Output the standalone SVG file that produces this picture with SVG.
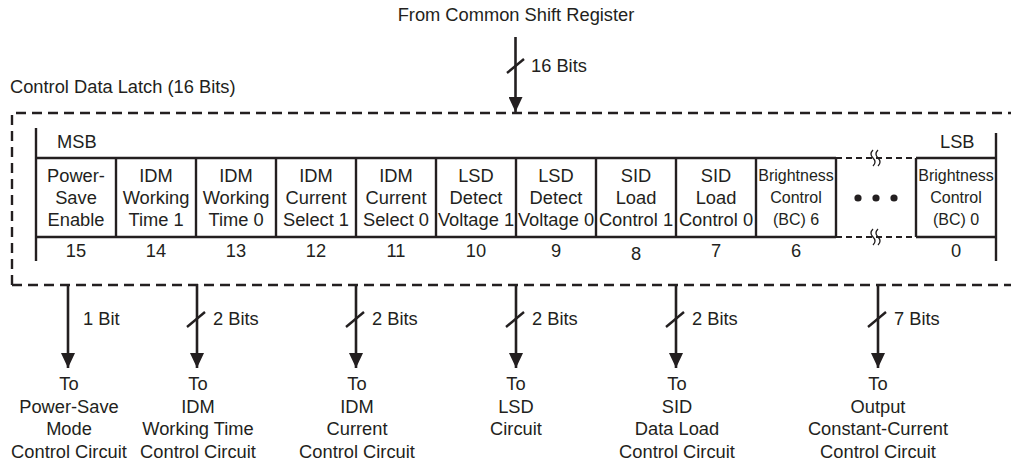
<svg xmlns="http://www.w3.org/2000/svg" width="1011" height="461" viewBox="0 0 1011 461">
<style>
text{font-family:"Liberation Sans",Arial,sans-serif;font-size:18.3px;fill:#231f20}
.c{text-anchor:middle}
.sm{font-size:16px}
.ln{stroke:#231f20;stroke-width:2.4;fill:none}
.dash{stroke:#231f20;stroke-width:2.4;fill:none;stroke-dasharray:10 6}
.sd{stroke:#231f20;stroke-width:1.8;fill:none;stroke-dasharray:6 4}
.wave{stroke:#231f20;stroke-width:1.3;fill:none}
.conn{stroke:#231f20;stroke-width:2.6;fill:none}
</style>
<defs>
<marker id="ah" markerUnits="userSpaceOnUse" markerWidth="15" markerHeight="14" refX="15" refY="7" orient="auto" viewBox="0 0 15 14">
<path d="M0,0 L15,7 L0,14 z" fill="#231f20"/>
</marker>
</defs>
<rect width="1011" height="461" fill="#fff"/>

<g id="title">
<text class="c" x="516" y="21">From Common Shift Register</text>
</g>

<g id="latch">
<text x="10" y="93">Control Data Latch (16 Bits)</text>
<path class="dash" d="M12,285 V113 H1011"/>
<path class="dash" d="M12,285 H1011"/>
<path class="ln" d="M36,128 V261"/>
<path class="ln" d="M996,133 V261"/>
<text x="57" y="148">MSB</text>
<text x="940" y="148">LSB</text>
<path class="ln" d="M36,158 H836 M916,158 H996 M36,237 H836 M916,237 H996"/>
<path class="sd" d="M836,158 H916 M836,237 H916"/>
<path class="wave" d="M873,150 Q869,154 873,158 Q877,162 873,166 M878,150 Q874,154 878,158 Q882,162 878,166"/>
<path class="wave" d="M873,229 Q869,233 873,237 Q877,241 873,245 M878,229 Q874,233 878,237 Q882,241 878,245"/>
</g>

<g id="bit15"><path class="ln" d="M116,158 V237"/><text class="c" x="76" y="182">Power-</text><text class="c" x="76" y="204">Save</text><text class="c" x="76" y="226">Enable</text><text class="c" x="76" y="257">15</text></g>
<g id="bit14"><path class="ln" d="M196,158 V237"/><text class="c" x="156" y="182">IDM</text><text class="c" x="156" y="204">Working</text><text class="c" x="156" y="226">Time 1</text><text class="c" x="156" y="257">14</text></g>
<g id="bit13"><path class="ln" d="M276,158 V237"/><text class="c" x="236" y="182">IDM</text><text class="c" x="236" y="204">Working</text><text class="c" x="236" y="226">Time 0</text><text class="c" x="236" y="257">13</text></g>
<g id="bit12"><path class="ln" d="M356,158 V237"/><text class="c" x="316" y="182">IDM</text><text class="c" x="316" y="204">Current</text><text class="c" x="316" y="226">Select 1</text><text class="c" x="316" y="257">12</text></g>
<g id="bit11"><path class="ln" d="M436,158 V237"/><text class="c" x="396" y="182">IDM</text><text class="c" x="396" y="204">Current</text><text class="c" x="396" y="226">Select 0</text><text class="c" x="396" y="257">11</text></g>
<g id="bit10"><path class="ln" d="M516,158 V237"/><text class="c" x="476" y="182">LSD</text><text class="c" x="476" y="204">Detect</text><text class="c" x="476" y="226">Voltage 1</text><text class="c" x="476" y="257">10</text></g>
<g id="bit9"><path class="ln" d="M596,158 V237"/><text class="c" x="556" y="182">LSD</text><text class="c" x="556" y="204">Detect</text><text class="c" x="556" y="226">Voltage 0</text><text class="c" x="556" y="257">9</text></g>
<g id="bit8"><path class="ln" d="M676,158 V237"/><text class="c" x="636" y="182">SID</text><text class="c" x="636" y="204">Load</text><text class="c" x="636" y="226">Control 1</text><text class="c" x="636" y="260">8</text></g>
<g id="bit7"><path class="ln" d="M756,158 V237"/><text class="c" x="716" y="182">SID</text><text class="c" x="716" y="204">Load</text><text class="c" x="716" y="226">Control 0</text><text class="c" x="716" y="257">7</text></g>
<g id="bit6"><path class="ln" d="M836,158 V237"/><text class="c sm" x="796" y="181">Brightness</text><text class="c sm" x="796" y="203">Control</text><text class="c sm" x="796" y="225">(BC) 6</text><text class="c" x="796" y="257">6</text></g>
<g id="ellipsis"><circle cx="858" cy="198" r="3.6" fill="#231f20"/><circle cx="876" cy="198" r="3.6" fill="#231f20"/><circle cx="894" cy="198" r="3.6" fill="#231f20"/></g>
<g id="bit0"><path class="ln" d="M916,158 V237"/><text class="c sm" x="956" y="181">Brightness</text><text class="c sm" x="956" y="203">Control</text><text class="c sm" x="956" y="225">(BC) 0</text><text class="c" x="956" y="257">0</text></g>

<g id="connectors">
<path class="conn" d="M515.5,37 V112" marker-end="url(#ah)"/>
<path class="ln" d="M507,73 L524,59"/>
<text x="531" y="72">16 Bits</text>

<path class="conn" d="M68,284 V368" marker-end="url(#ah)"/>
<text x="83" y="325">1 Bit</text>

<path class="conn" d="M197,284 V368" marker-end="url(#ah)"/>
<path class="ln" d="M187,327 L205,312"/>
<text x="213" y="325">2 Bits</text>

<path class="conn" d="M356,284 V368" marker-end="url(#ah)"/>
<path class="ln" d="M346,327 L364,312"/>
<text x="372" y="325">2 Bits</text>

<path class="conn" d="M516,284 V368" marker-end="url(#ah)"/>
<path class="ln" d="M506,327 L524,312"/>
<text x="532" y="325">2 Bits</text>

<path class="conn" d="M676,284 V368" marker-end="url(#ah)"/>
<path class="ln" d="M666,327 L684,312"/>
<text x="692" y="325">2 Bits</text>

<path class="conn" d="M878,284 V368" marker-end="url(#ah)"/>
<path class="ln" d="M868,327 L886,312"/>
<text x="894" y="325">7 Bits</text>
</g>

<g id="dest-powersave"><text class="c" x="69" y="390">To</text><text class="c" x="69" y="412.5">Power-Save</text><text class="c" x="69" y="435">Mode</text><text class="c" x="69" y="457.5">Control Circuit</text></g>
<g id="dest-idm-time"><text class="c" x="198" y="390">To</text><text class="c" x="198" y="412.5">IDM</text><text class="c" x="198" y="435">Working Time</text><text class="c" x="198" y="457.5">Control Circuit</text></g>
<g id="dest-idm-current"><text class="c" x="357" y="390">To</text><text class="c" x="357" y="412.5">IDM</text><text class="c" x="357" y="435">Current</text><text class="c" x="357" y="457.5">Control Circuit</text></g>
<g id="dest-lsd"><text class="c" x="516" y="390">To</text><text class="c" x="516" y="412.5">LSD</text><text class="c" x="516" y="435">Circuit</text></g>
<g id="dest-sid"><text class="c" x="677" y="390">To</text><text class="c" x="677" y="412.5">SID</text><text class="c" x="677" y="435">Data Load</text><text class="c" x="677" y="457.5">Control Circuit</text></g>
<g id="dest-output"><text class="c" x="878" y="390">To</text><text class="c" x="878" y="412.5">Output</text><text class="c" x="878" y="435">Constant-Current</text><text class="c" x="878" y="457.5">Control Circuit</text></g>
</svg>
